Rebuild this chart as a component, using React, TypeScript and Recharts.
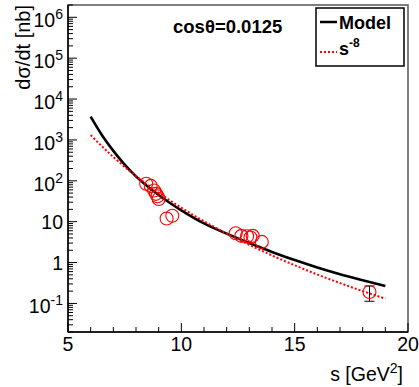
import React from 'react';
import {
  ComposedChart,
  Line,
  Scatter,
  XAxis,
  YAxis,
  ReferenceArea,
  ErrorBar,
  Customized,
} from 'recharts';

// ---- data ----
const MODEL_S = [6, 6.5, 7, 7.5, 8, 9, 10, 11, 12, 13, 14, 15, 16, 17, 18, 19];
const MODEL_V = [3700, 1300, 540, 250, 128, 45, 19, 9.1, 5.1, 3.0, 1.82, 1.15, 0.76, 0.52, 0.37, 0.266];

const POWER_S = [6, 7, 8, 9, 10, 11, 12, 13, 14, 15, 16, 17, 18, 19];
const POWER_V = [1310, 382, 131, 51, 22, 10.3, 5.1, 2.7, 1.49, 0.86, 0.51, 0.315, 0.2, 0.131];

const DATA_S = [8.45, 8.65, 8.8, 8.88, 8.95, 9.0, 9.35, 9.6, 12.4, 12.65, 12.9, 13.05, 13.15, 13.55];
const DATA_V = [85, 75, 58, 48, 42, 36, 12, 14, 5.2, 4.5, 4.4, 4.1, 4.5, 3.2];

const ERR_S = [18.3];
const ERR_V = [0.19];
const ERR_E = [0.077];

const X_TICKS = [5, 6, 7, 8, 9, 10, 11, 12, 13, 14, 15, 16, 17, 18, 19, 20];
const X_MAJOR = [5, 10, 15, 20];
const X_LABELS = ['5', '10', '15', '20'];

const Y_MAJOR = [0.1, 1, 10, 100, 1000, 10000, 100000, 1000000];
const Y_BASE = ['10', '1', '10', '10', '10', '10', '10', '10'];
const Y_EXP = ['-1', '', '', '2', '3', '4', '5', '6'];
const Y_DOMAIN = [0.02, 2e6];

const FONT = '"Liberation Sans", Arial, Helvetica, sans-serif';

// build tables
const modelData = MODEL_S.map((s, i) => ({ s, v: MODEL_V[i] }));
const powerData = POWER_S.map((s, i) => ({ s, v: POWER_V[i] }));
const pointData = DATA_S.map((s, i) => ({ s, v: DATA_V[i] }));
const errData = ERR_S.map((s, i) => ({ s, v: ERR_V[i], err: ERR_E[i] }));

const Y_TICKS: number[] = [];
for (let d = -2; d <= 6; d++) {
  for (let k = 1; k <= 9; k++) {
    const v = k * Math.pow(10, d);
    if (v >= Y_DOMAIN[0] && v <= Y_DOMAIN[1]) Y_TICKS.push(v);
  }
}

const findMajor = (arr: number[], v: number) =>
  arr.findIndex((m) => Math.abs(m - v) / Math.abs(m) < 1e-6);

const XTick = (props: any) => {
  const { x, y, payload } = props;
  const idx = findMajor(X_MAJOR, payload.value);
  const major = idx >= 0;
  return (
    <g>
      <line x1={x} x2={x} y1={y} y2={y - (major ? 9 : 5)} stroke="#000" strokeWidth={1} />
      {major && (
        <text x={x} y={y + 19} textAnchor="middle" fontSize={19.5} fontFamily={FONT} fill="#000">
          {X_LABELS[idx]}
        </text>
      )}
    </g>
  );
};

const YTick = (props: any) => {
  const { x, y, payload } = props;
  const idx = findMajor(Y_MAJOR, payload.value);
  const major = idx >= 0;
  const exp = major ? Y_EXP[idx] : '';
  return (
    <g>
      <line x1={x} x2={x + (major ? 9 : 5)} y1={y} y2={y} stroke="#000" strokeWidth={1} />
      {major && (
        <text
          x={x - 5}
          y={y + (exp ? 10 : 7)}
          textAnchor="end"
          fontSize={19.5}
          fontFamily={FONT}
          fill="#000"
        >
          {Y_BASE[idx]}
          {exp && (
            <tspan dy={-8} fontSize={14}>
              {exp}
            </tspan>
          )}
        </text>
      )}
    </g>
  );
};

const Circle = (p: any) => (
  <circle cx={p.cx} cy={p.cy} r={6.5} fill="none" stroke="#ff0000" strokeWidth={1.1} />
);

const Annotations = () => (
  <g fontFamily={FONT} fill="#000">
    <text transform="translate(30,5) rotate(-90)" textAnchor="end" fontSize={20}>
      dσ/dt [nb]
    </text>
    <text x={403} y={381} textAnchor="end" fontSize={19.5}>
      s [GeV
      <tspan dy={-8} fontSize={14}>
        2
      </tspan>
      <tspan dy={8}>]</tspan>
    </text>
    <text x={173} y={33} fontSize={18.5} fontWeight="bold">
      cosθ=0.0125
    </text>
    <rect x={316} y={8} width={88} height={58} fill="#fff" stroke="#000" strokeWidth={1.5} />
    <line x1={320} x2={337} y1={22} y2={22} stroke="#000" strokeWidth={2.5} />
    <text x={339} y={29} fontSize={18} fontWeight="bold">
      Model
    </text>
    <line x1={320} x2={337} y1={52} y2={52} stroke="#ff0000" strokeWidth={2} strokeDasharray="2 2" />
    <text x={339} y={55} fontSize={18} fontWeight="bold">
      s
      <tspan dy={-8} fontSize={12}>
        -8
      </tspan>
    </text>
  </g>
);

export default function App() {
  return (
    <div style={{ position: 'absolute', left: 0, top: 0, background: '#fff' }}>
      <ComposedChart
        width={419}
        height={387}
        margin={{ top: 5, right: 11, left: 0, bottom: 0 }}
      >
        <XAxis
          dataKey="s"
          type="number"
          domain={[5, 20]}
          allowDataOverflow
          ticks={X_TICKS}
          interval={0}
          tickSize={0}
          tickMargin={0}
          tickLine={false}
          tick={<XTick />}
          height={55}
          axisLine={{ stroke: '#000', strokeWidth: 1.5 }}
        />
        <YAxis
          dataKey="v"
          type="number"
          scale="log"
          domain={Y_DOMAIN}
          allowDataOverflow
          ticks={Y_TICKS}
          interval={0}
          tickSize={0}
          tickMargin={0}
          tickLine={false}
          tick={<YTick />}
          width={68}
          axisLine={{ stroke: '#000', strokeWidth: 1.5 }}
        />
        <ReferenceArea
          x1={5}
          x2={20}
          y1={Y_DOMAIN[0]}
          y2={Y_DOMAIN[1]}
          fill="none"
          fillOpacity={0}
          stroke="#555"
          strokeWidth={1.5}
          ifOverflow="visible"
        />
        <Line
          data={modelData}
          dataKey="v"
          type="monotone"
          stroke="#000"
          strokeWidth={2.6}
          dot={false}
          activeDot={false}
          isAnimationActive={false}
        />
        <Line
          data={powerData}
          dataKey="v"
          type="monotone"
          stroke="#ff0000"
          strokeWidth={2}
          strokeDasharray="2 2"
          dot={false}
          activeDot={false}
          isAnimationActive={false}
        />
        <Scatter data={pointData} dataKey="v" shape={<Circle />} isAnimationActive={false} />
        <Scatter data={errData} dataKey="v" shape={<Circle />} isAnimationActive={false}>
          <ErrorBar dataKey="err" direction="y" width={5} stroke="#000" strokeWidth={1} isAnimationActive={false} />
        </Scatter>
        <Customized component={Annotations} />
      </ComposedChart>
    </div>
  );
}
